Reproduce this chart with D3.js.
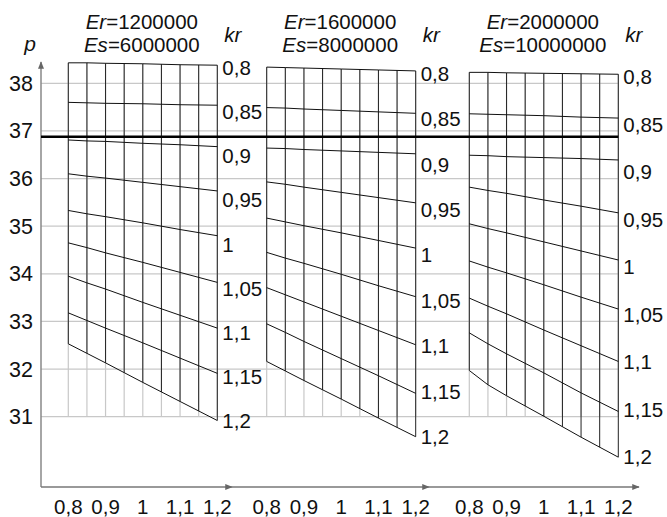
<!DOCTYPE html>
<html>
<head>
<meta charset="utf-8">
<script src="https://cdn.jsdelivr.net/npm/d3@7"></script>
<style>
  body { margin: 0; background: #fff; }
  text { font-family: "Liberation Sans", Arial, sans-serif; fill: #111; }
</style>
</head>
<body>
<div class="chart"></div>
<script>
// values
const erValues = [1200000, 1600000, 2000000];
const esValues = [6000000, 8000000, 10000000];
const krValues = [0.8, 0.85, 0.9, 0.95, 1, 1.05, 1.1, 1.15, 1.2];
const xPoints = [0.8, 0.85, 0.9, 1.0, 1.1, 1.2];
const gridX = [0.8, 0.85, 0.9, 0.95, 1, 1.05, 1.1, 1.15, 1.2];
const xTicks = [0.8, 0.9, 1, 1.1, 1.2];
const yTicks = [31, 32, 33, 34, 35, 36, 37, 38];
const pLimit = 36.88;

// p for each kr line (rows) at xPoints (columns)
const pPanel1 = [
  [38.43, 38.43, 38.42, 38.41, 38.39, 38.38],
  [37.60, 37.59, 37.58, 37.57, 37.55, 37.54],
  [36.81, 36.79, 36.78, 36.74, 36.71, 36.67],
  [36.10, 36.05, 36.01, 35.92, 35.83, 35.74],
  [35.33, 35.26, 35.20, 35.07, 34.93, 34.80],
  [34.65, 34.55, 34.44, 34.24, 34.03, 33.82],
  [33.95, 33.81, 33.68, 33.40, 33.13, 32.86],
  [33.18, 33.02, 32.86, 32.55, 32.23, 31.91],
  [32.53, 32.33, 32.13, 31.72, 31.32, 30.92]
];
const pPanel2 = [
  [38.34, 38.33, 38.32, 38.30, 38.28, 38.26],
  [37.49, 37.48, 37.46, 37.43, 37.40, 37.37],
  [36.64, 36.63, 36.61, 36.58, 36.55, 36.52],
  [35.93, 35.88, 35.82, 35.71, 35.60, 35.49],
  [35.17, 35.09, 35.01, 34.86, 34.70, 34.54],
  [34.45, 34.33, 34.22, 33.99, 33.75, 33.52],
  [33.71, 33.56, 33.41, 33.11, 32.81, 32.51],
  [32.95, 32.77, 32.58, 32.22, 31.86, 31.49],
  [32.16, 31.96, 31.76, 31.37, 30.97, 30.58]
];
const pPanel3 = [
  [38.23, 38.23, 38.22, 38.21, 38.20, 38.19],
  [37.36, 37.35, 37.34, 37.32, 37.29, 37.27],
  [36.49, 36.48, 36.46, 36.44, 36.42, 36.39],
  [35.82, 35.75, 35.69, 35.55, 35.42, 35.28],
  [35.05, 34.95, 34.86, 34.67, 34.48, 34.29],
  [34.27, 34.14, 34.02, 33.77, 33.51, 33.26],
  [33.49, 33.32, 33.16, 32.82, 32.49, 32.16],
  [32.76, 32.53, 32.32, 31.92, 31.50, 31.11],
  [31.97, 31.67, 31.44, 31.01, 30.57, 30.15]
];
const panels = [pPanel1, pPanel2, pPanel3];

const width = 667;
const height = 517;
const axisX = 41;
const axisY = 487;
const panelLeft = [68.3, 266.7, 469.3];
const panelWidth = 149;
const axisEnds = [232, 429, 639];
const fmt = v => String(v).replace('.', ',');

const svg = d3.select('.chart')
  .append('svg')
  .attr('width', width)
  .attr('height', height);

svg.append('defs').append('marker')
  .attr('id', 'arrow')
  .attr('viewBox', '0 0 10 10')
  .attr('refX', 9).attr('refY', 5)
  .attr('markerWidth', 5).attr('markerHeight', 5)
  .attr('orient', 'auto')
  .append('path')
  .attr('d', 'M0,1 L10,5 L0,9 z')
  .attr('fill', '#666');

const y = d3.scaleLinear().domain([31, 38]).range([416.7, 83.3]);
const xScales = panelLeft.map(l => d3.scaleLinear().domain([0.8, 1.2]).range([l, l + panelWidth]));
const gridRight = xScales[2](1.2);

// horizontal grid
svg.selectAll('line.hgrid')
  .data(yTicks)
  .enter()
  .append('line')
  .attr('class', 'hgrid')
  .attr('x1', axisX)
  .attr('x2', gridRight)
  .attr('y1', d => y(d))
  .attr('y2', d => y(d))
  .attr('stroke', '#c8c8c8')
  .attr('stroke-width', 1.2);

// y axis
svg.append('line')
  .attr('x1', axisX).attr('x2', axisX)
  .attr('y1', axisY).attr('y2', 62)
  .attr('stroke', '#888')
  .attr('stroke-width', 1.5)
  .attr('marker-end', 'url(#arrow)');

svg.selectAll('text.ylab')
  .data(yTicks)
  .enter()
  .append('text')
  .attr('class', 'ylab')
  .text(d => d)
  .attr('x', 33)
  .attr('y', d => y(d))
  .attr('dy', '0.35em')
  .attr('text-anchor', 'end')
  .attr('font-size', 21.5);

svg.append('text')
  .text('p')
  .attr('x', 30)
  .attr('y', 51)
  .attr('text-anchor', 'middle')
  .attr('font-style', 'italic')
  .attr('font-size', 21);

panels.forEach((rows, k) => {
  const x = xScales[k];
  const g = svg.append('g');
  const lineFns = rows.map(r => d3.scaleLinear().domain(xPoints).range(r));
  const top = lineFns[0];
  const bottom = lineFns[lineFns.length - 1];

  // x axis segment
  const segStart = k === 0 ? axisX : axisEnds[k - 1];
  g.append('line')
    .attr('x1', segStart).attr('x2', axisEnds[k])
    .attr('y1', axisY).attr('y2', axisY)
    .attr('stroke', '#777')
    .attr('stroke-width', 1.5)
    .attr('marker-end', 'url(#arrow)');

  g.selectAll('text.xlab')
    .data(xTicks)
    .enter()
    .append('text')
    .text(d => fmt(d))
    .attr('x', d => x(d))
    .attr('y', 514)
    .attr('text-anchor', 'middle')
    .attr('font-size', 20.5);

  // light vertical grid below the nomogram
  g.selectAll('line.vgrid')
    .data(gridX)
    .enter()
    .append('line')
    .attr('x1', d => x(d)).attr('x2', d => x(d))
    .attr('y1', d => y(top(d)))
    .attr('y2', y(31))
    .attr('stroke', '#c8c8c8')
    .attr('stroke-width', 1.2);

  // black verticals between first and last kr line
  g.selectAll('line.vline')
    .data(gridX)
    .enter()
    .append('line')
    .attr('x1', d => x(d)).attr('x2', d => x(d))
    .attr('y1', d => y(top(d)))
    .attr('y2', d => y(bottom(d)))
    .attr('stroke', '#222')
    .attr('stroke-width', 1);

  const line = d3.line()
    .x(d => x(d[0]))
    .y(d => y(d[1]));

  g.selectAll('path.kr')
    .data(rows)
    .enter()
    .append('path')
    .attr('d', r => line(r.map((v, i) => [xPoints[i], v])))
    .attr('fill', 'none')
    .attr('stroke', '#111')
    .attr('stroke-width', 1);

  // kr labels spread evenly from first to last line end
  const yFirst = y(rows[0][rows[0].length - 1]);
  const yLast = y(rows[rows.length - 1][rows[0].length - 1]);
  g.selectAll('text.kr')
    .data(krValues)
    .enter()
    .append('text')
    .text(d => fmt(d))
    .attr('x', x(1.2) + 5)
    .attr('y', (d, i) => yFirst + 3 + (yLast - yFirst - 3) * i / (krValues.length - 1))
    .attr('dy', '0.35em')
    .attr('font-size', 20.5);

  g.append('text')
    .text('kr')
    .attr('x', x(1.2) + 7)
    .attr('y', 42)
    .attr('font-style', 'italic')
    .attr('font-size', 20.5);

  const cx = x(1.0) - 1;
  const t1 = g.append('text').attr('x', cx).attr('y', 29).attr('text-anchor', 'middle').attr('font-size', 20.5);
  t1.append('tspan').attr('font-style', 'italic').text('Er');
  t1.append('tspan').text('=' + erValues[k]);
  const t2 = g.append('text').attr('x', cx).attr('y', 52).attr('text-anchor', 'middle').attr('font-size', 20.5);
  t2.append('tspan').attr('font-style', 'italic').text('Es');
  t2.append('tspan').text('=' + esValues[k]);
});

// limit line
svg.append('line')
  .attr('x1', axisX)
  .attr('x2', gridRight)
  .attr('y1', y(pLimit))
  .attr('y2', y(pLimit))
  .attr('stroke', '#000')
  .attr('stroke-width', 2.5);
</script>
</body>
</html>
